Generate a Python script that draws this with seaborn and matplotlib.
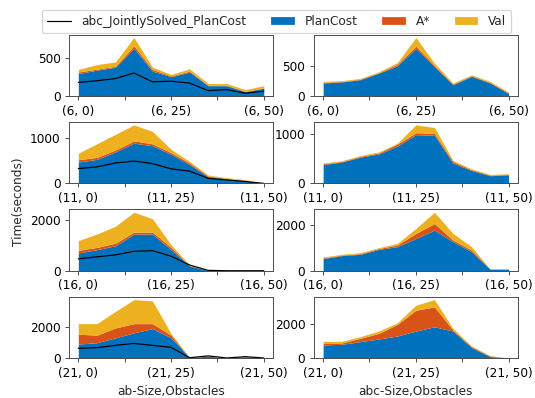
import matplotlib
matplotlib.use("Agg")
import matplotlib.pyplot as plt
from matplotlib.lines import Line2D
from matplotlib.patches import Patch
import seaborn as sns

sns.set_style("white")
plt.rcParams["axes.edgecolor"] = "0.3"
plt.rcParams["axes.linewidth"] = 0.8
plt.rcParams["xtick.bottom"] = True
plt.rcParams["ytick.left"] = True
plt.rcParams["xtick.color"] = "0.3"
plt.rcParams["ytick.color"] = "0.3"
plt.rcParams["xtick.labelcolor"] = "black"
plt.rcParams["ytick.labelcolor"] = "black"
plt.rcParams["font.size"] = 10

sizes = [6, 11, 16, 21]
obstacles = [0, 5, 10, 15, 20, 25, 30, 35, 40, 45, 50]
ytick_sets = {6: [0, 500], 11: [0, 1000], 16: [0, 2000], 21: [0, 2000]}

# ab (left column): PlanCost, A*, Val increments and joint line
ab_plan = {
    6: [293, 339, 377, 623, 326, 254, 314, 136, 136, 59, 102],
    11: [471, 528, 693, 885, 828, 643, 414, 150, 100, 57, 5],
    16: [710, 839, 994, 1458, 1458, 839, 194, 15, 5, 5, 5],
    21: [915, 1000, 1319, 1639, 1915, 1319, 30, 130, 15, 90, 15],
}
ab_astar = {
    6: [21, 12, 12, 34, 22, 10, 12, 6, 6, 4, 6],
    11: [50, 45, 42, 50, 43, 35, 36, 15, 10, 10, 1],
    16: [103, 90, 103, 77, 77, 90, 15, 3, 1, 1, 1],
    21: [638, 490, 639, 595, 319, 171, 5, 15, 3, 10, 3],
}
ab_val = {
    6: [34, 60, 56, 106, 29, 20, 30, 23, 23, 22, 28],
    11: [143, 298, 343, 350, 271, 72, 35, 21, 18, 19, 1],
    16: [387, 529, 671, 787, 529, 103, 36, 5, 2, 2, 2],
    21: [681, 744, 1064, 1554, 1469, 106, 5, 35, 2, 28, 2],
}
ab_joint = {
    6: [178, 200, 229, 301, 187, 195, 170, 72, 85, 38, 64],
    11: [328, 364, 450, 493, 436, 321, 271, 114, 79, 43, 3],
    16: [477, 555, 632, 774, 800, 581, 232, 20, 5, 5, 5],
    21: [638, 681, 830, 958, 830, 702, 30, 150, 15, 100, 15],
}

# abc (right column)
abc_plan = {
    6: [215, 231, 269, 376, 495, 780, 484, 188, 323, 215, 43],
    11: [384, 437, 536, 602, 761, 993, 980, 417, 265, 159, 172],
    16: [532, 662, 719, 935, 1050, 1410, 1770, 1266, 835, 72, 72],
    21: [769, 808, 962, 1115, 1288, 1577, 1827, 1577, 615, 96, 5],
}
abc_astar = {
    6: [10, 8, 8, 8, 26, 37, 20, 10, 10, 10, 8],
    11: [15, 12, 15, 20, 40, 40, 40, 30, 15, 12, 12],
    16: [30, 25, 30, 35, 72, 216, 288, 72, 71, 7, 7],
    21: [116, 77, 192, 327, 673, 1211, 1154, 58, 58, 29, 2],
}
abc_val = {
    6: [17, 14, 13, 14, 27, 140, 34, 17, 16, 17, 14],
    11: [18, 14, 18, 20, 20, 159, 119, 23, 18, 14, 15],
    16: [42, 32, 42, 37, 72, 216, 489, 288, 144, 7, 7],
    21: [96, 96, 96, 135, 97, 289, 423, 96, 38, 29, 2],
}

colors = ["#0072BD", "#D95319", "#EDB120"]

dpi = 87.5
fig, axes = plt.subplots(4, 2, figsize=(535 / dpi, 398 / dpi), dpi=dpi)
fig.subplots_adjust(left=0.129, right=0.968, top=0.913, bottom=0.10,
                    wspace=0.2, hspace=0.42)

x = list(range(len(obstacles)))
for r, s in enumerate(sizes):
    for c in range(2):
        ax = axes[r, c]
        if c == 0:
            layers = [ab_plan[s], ab_astar[s], ab_val[s]]
        else:
            layers = [abc_plan[s], abc_astar[s], abc_val[s]]
        ax.stackplot(x, *layers, colors=colors, linewidth=0)
        if c == 0:
            sns.lineplot(x=x, y=ab_joint[s], ax=ax, color="black",
                         linewidth=1.0, legend=False)
        ax.margins(x=0.05)
        ax.set_ylim(bottom=0)
        ax.set_yticks(ytick_sets[s])
        ax.set_xticks([0, 2.5, 5, 7.5, 10])
        ax.set_xticklabels([f"({s}, 0)", "", f"({s}, 25)", "", f"({s}, 50)"])
        ax.tick_params(length=3.5, width=0.8)

axes[3, 0].set_xlabel("ab-Size,Obstacles")
axes[3, 1].set_xlabel("abc-Size,Obstacles")
fig.text(0.034, 0.492, "Time(seconds)", rotation=90, va="center",
         ha="center")

handles = [
    Line2D([], [], color="black", linewidth=1.0),
    Patch(facecolor=colors[0]),
    Patch(facecolor=colors[1]),
    Patch(facecolor=colors[2]),
]
labels = ["abc_JointlySolved_PlanCost", "PlanCost", "A*", "Val"]
fig.legend(handles, labels, loc="upper center", ncol=4,
           bbox_to_anchor=(0.517, 0.99), frameon=True)

fig.savefig("out.png", dpi=dpi)
